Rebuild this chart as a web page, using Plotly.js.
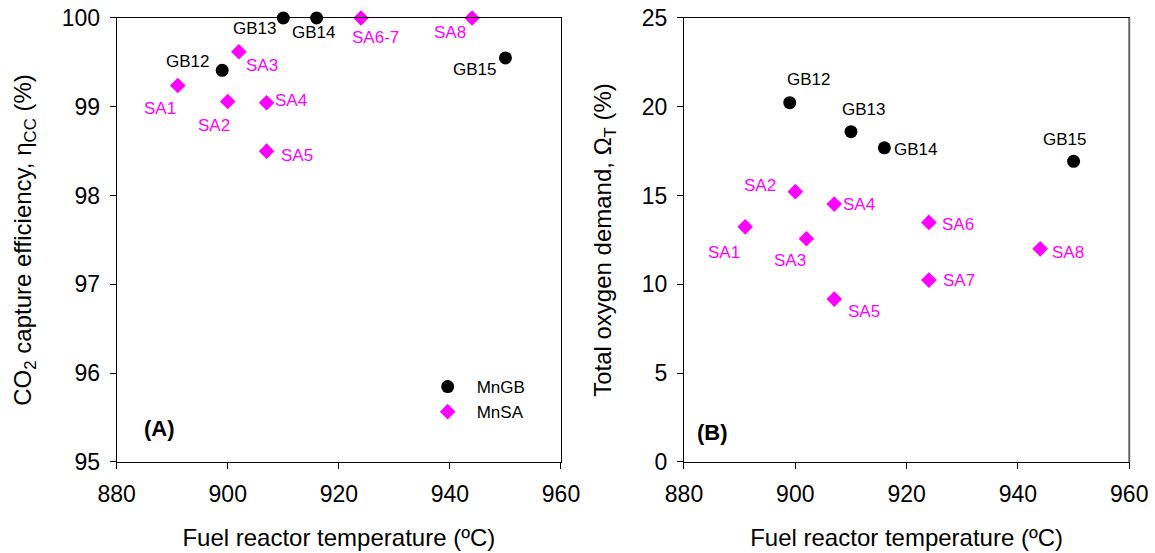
<!DOCTYPE html>
<html>
<head>
<meta charset="utf-8">
<script src="https://cdn.plot.ly/plotly-3.0.1.min.js"></script>
<style>html,body{margin:0;padding:0;background:#fff;}#chart{width:1155px;height:553px;}</style>
</head>
<body>
<div id="chart"></div>
<script>
// ---- Data ----
const gbNames = ["GB12", "GB13", "GB14", "GB15"];
const gbTemp = [899, 910, 916, 950];
const gbCapture = [99.41, 100, 100, 99.55];
const gbOxygen = [20.23, 18.6, 17.69, 16.93];

const saNamesA = ["SA1", "SA2", "SA3", "SA4", "SA5", "SA6-7", "SA8"];
const saTempA = [891, 900, 902, 907, 907, 924, 944];
const saCapture = [99.24, 99.06, 99.62, 99.045, 98.50, 100, 100];

const saNamesB = ["SA1", "SA2", "SA3", "SA4", "SA5", "SA6", "SA7", "SA8"];
const saTempB = [891, 900, 902, 907, 907, 924, 924, 944];
const saOxygen = [13.24, 15.22, 12.57, 14.52, 9.17, 13.49, 10.24, 12.0];

const xTicks = [880, 900, 920, 940, 960];
const yTicksA = [95, 96, 97, 98, 99, 100];
const yTicksB = [0, 5, 10, 15, 20, 25];

// ---- Label offsets in pixels (dx, dy down-positive) ----
const gbOffA = [[-35, -9], [-29, 11], [-3, 15], [-31, 12]];
const saOffA = [[-18, 23], [-14, 24], [23, 14], [24, -2], [30, 4], [14, 20], [-22, 15]];
const gbOffB = [[19, -23], [13, -22], [31, 2], [-9, -22]];
const saOffB = [[-21, 26], [-35, -6], [-16, 22], [25, 0], [30, 12], [29, 2], [30, 0], [28, 4]];

const BLACK = "#000000";
const MAGENTA = "#FF00FF";
const FONT = "Liberation Sans, Arial, sans-serif";

const traces = [
  {x: gbTemp, y: gbCapture, xaxis: "x", yaxis: "y", type: "scatter", mode: "markers", name: "MnGB",
   marker: {symbol: "circle", size: 13, color: BLACK}, cliponaxis: false, legendgroup: "gb"},
  {x: saTempA, y: saCapture, xaxis: "x", yaxis: "y", type: "scatter", mode: "markers", name: "MnSA",
   marker: {symbol: "diamond", size: 12, color: MAGENTA}, cliponaxis: false, legendgroup: "sa"},
  {x: gbTemp, y: gbOxygen, xaxis: "x2", yaxis: "y2", type: "scatter", mode: "markers", name: "MnGB",
   marker: {symbol: "circle", size: 13, color: BLACK}, cliponaxis: false, showlegend: false},
  {x: saTempB, y: saOxygen, xaxis: "x2", yaxis: "y2", type: "scatter", mode: "markers", name: "MnSA",
   marker: {symbol: "diamond", size: 12, color: MAGENTA}, cliponaxis: false, showlegend: false}
];

const annotations = [];
function addLabels(names, xs, ys, offs, color, xr, yr) {
  names.forEach((n, i) => {
    annotations.push({text: n, x: xs[i], y: ys[i], xref: xr, yref: yr, showarrow: false,
      xshift: offs[i][0], yshift: -offs[i][1], font: {family: FONT, size: 17, color: color},
      xanchor: "center", yanchor: "middle"});
  });
}
addLabels(gbNames, gbTemp, gbCapture, gbOffA, BLACK, "x", "y");
addLabels(saNamesA, saTempA, saCapture, saOffA, MAGENTA, "x", "y");
addLabels(gbNames, gbTemp, gbOxygen, gbOffB, BLACK, "x2", "y2");
addLabels(saNamesB, saTempB, saOxygen, saOffB, MAGENTA, "x2", "y2");

annotations.push({text: "<b>(A)</b>", xref: "x domain", yref: "y domain", x: 0, y: 0, xshift: 43, yshift: 33,
  showarrow: false, font: {family: FONT, size: 22, color: BLACK}, xanchor: "center", yanchor: "middle"});
annotations.push({text: "<b>(B)</b>", xref: "x2 domain", yref: "y2 domain", x: 0, y: 0, xshift: 29, yshift: 29,
  showarrow: false, font: {family: FONT, size: 22, color: BLACK}, xanchor: "center", yanchor: "middle"});

const axisCommon = {
  showgrid: false, zeroline: false, showline: true, linecolor: BLACK, linewidth: 1, mirror: true,
  ticks: "outside", ticklen: 6, tickcolor: BLACK, tickwidth: 1, ticklabelstandoff: 5,
  tickfont: {family: FONT, size: 23, color: BLACK}, automargin: false
};

const layout = {
  width: 1155, height: 553,
  margin: {l: 0, r: 0, t: 0, b: 0},
  paper_bgcolor: "#fff", plot_bgcolor: "#fff",
  font: {family: FONT, color: BLACK},
  showlegend: true,
  legend: {x: 0.3625, y: 0.3327, xanchor: "left", yanchor: "top", bgcolor: "rgba(0,0,0,0)",
    font: {family: FONT, size: 17, color: BLACK}, itemwidth: 48, tracegroupgap: 0},
  xaxis: Object.assign({}, axisCommon, {domain: [0.1010, 0.4857], range: [880, 960],
    tickvals: xTicks, ticktext: xTicks.map(String), anchor: "y",
    title: {text: "Fuel reactor temperature (ºC)", font: {family: FONT, size: 24, color: BLACK}, standoff: 23}}),
  yaxis: Object.assign({}, axisCommon, {domain: [0.1646, 0.9675], range: [95, 100],
    tickvals: yTicksA, ticktext: yTicksA.map(String), anchor: "x",
    title: {text: "CO<sub>2</sub> capture efficiency, η<sub>CC</sub> (%)", font: {family: FONT, size: 24, color: BLACK}, standoff: 23}}),
  xaxis2: Object.assign({}, axisCommon, {domain: [0.5922, 0.9777], range: [880, 960],
    tickvals: xTicks, ticktext: xTicks.map(String), anchor: "y2",
    title: {text: "Fuel reactor temperature (ºC)", font: {family: FONT, size: 24, color: BLACK}, standoff: 23}}),
  yaxis2: Object.assign({}, axisCommon, {domain: [0.1646, 0.9675], range: [0, 25],
    tickvals: yTicksB, ticktext: yTicksB.map(String), anchor: "x2",
    title: {text: "Total oxygen demand, Ω<sub>T</sub> (%)", font: {family: FONT, size: 24, color: BLACK}, standoff: 23}}),
  shapes: [
    {type: "line", xref: "x2 domain", yref: "y2 domain", x0: 1, x1: 1, y0: 0, y1: 1,
     line: {color: "#666666", width: 2}}
  ],
  annotations: annotations
};

Plotly.newPlot("chart", traces, layout, {displayModeBar: false, staticPlot: true});
</script>
</body>
</html>
